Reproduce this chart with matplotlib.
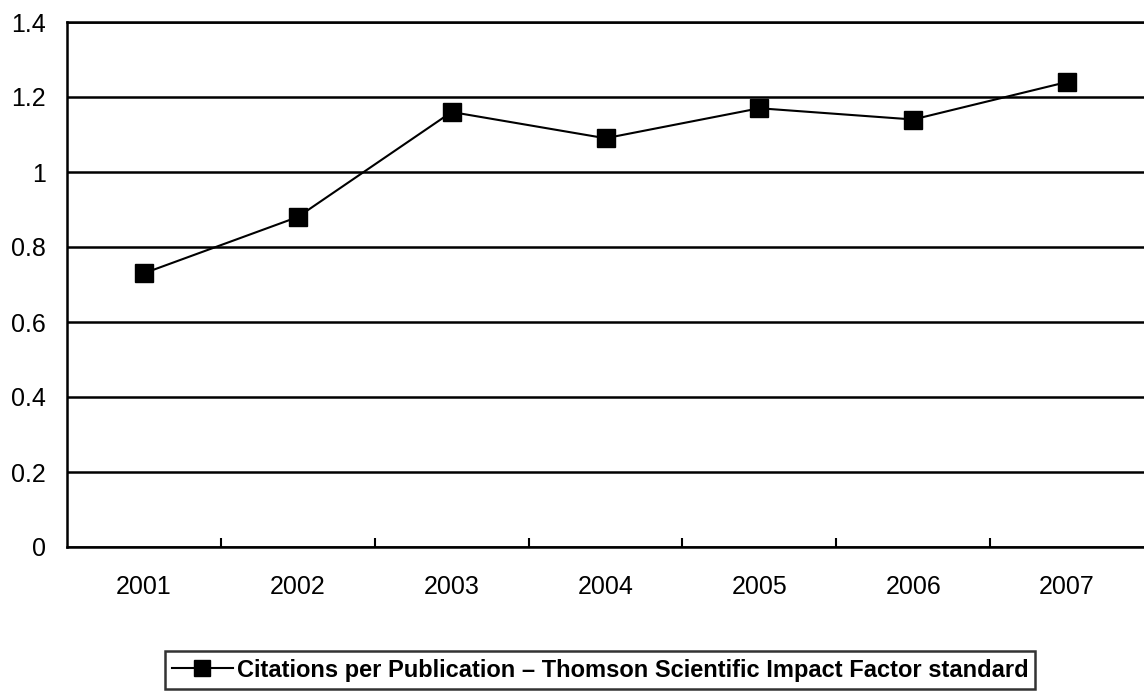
import matplotlib.pyplot as plt
from matplotlib.ticker import FixedLocator

plt.rcParams['font.family'] = ['Liberation Sans', 'DejaVu Sans']

years = ['2001', '2002', '2003', '2004', '2005', '2006', '2007']
citations = [0.73, 0.88, 1.16, 1.09, 1.17, 1.14, 1.24]
yticks = [0, 0.2, 0.4, 0.6, 0.8, 1, 1.2, 1.4]
ytick_labels = ['0', '0.2', '0.4', '0.6', '0.8', '1', '1.2', '1.4']
series_name = 'Citations per Publication \u2013 Thomson Scientific Impact Factor standard'

fig = plt.figure(figsize=(11.44, 6.98), dpi=100)
ax = fig.add_axes([67 / 1144, 151 / 698, 1 - 67 / 1144, 525 / 698])

x = list(range(1, len(years) + 1))
ax.plot(x, citations, color='black', linewidth=1.5, marker='s',
        markersize=13, markerfacecolor='black', markeredgecolor='black',
        label=series_name, zorder=3, clip_on=False)

ax.set_xlim(0.5, len(years) + 0.5)
ax.set_ylim(0, 1.4)
ax.set_yticks(yticks)
ax.set_yticklabels(ytick_labels)
ax.set_xticks(x)
ax.set_xticklabels(years)
ax.xaxis.set_minor_locator(FixedLocator([i + 0.5 for i in range(1, len(years))]))

ax.tick_params(axis='x', which='major', length=0, pad=20, labelsize=18)
ax.tick_params(axis='x', which='minor', length=6.5, width=1.5, direction='in', color='black')
ax.tick_params(axis='y', length=0, pad=15, labelsize=18)

ax.grid(axis='y', color='black', linewidth=1.8)
ax.set_axisbelow(True)
ax.spines['right'].set_visible(False)
for side in ['left', 'bottom', 'top']:
    ax.spines[side].set_linewidth(1.8)

leg = fig.legend(loc='center', bbox_to_anchor=(600 / 1144, 1 - 670 / 698),
                 frameon=True, fancybox=False, edgecolor='black',
                 prop={'weight': 'bold', 'size': 17},
                 handlelength=2.6, handletextpad=0.15, borderpad=0.3,
                 borderaxespad=0)
leg.get_frame().set_linewidth(1.8)
leg.legend_handles[0].set_markersize(12)

fig.savefig('out.png', dpi=100)
